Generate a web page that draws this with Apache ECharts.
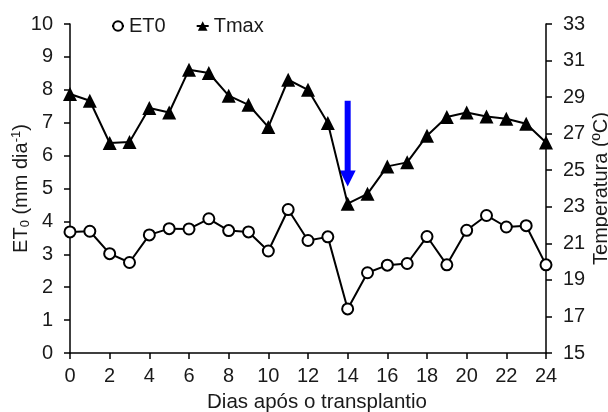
<!DOCTYPE html>
<html><head><meta charset="utf-8">
<script src="https://cdn.jsdelivr.net/npm/echarts@6/dist/echarts.min.js"></script>
<style>html,body{margin:0;padding:0;background:#fff}#c{width:608px;height:412px}</style>
</head><body><div id="c"></div>
<script>
const days = [0,1,2,3,4,5,6,7,8,9,10,11,12,13,14,15,16,17,18,19,20,21,22,23,24];
const et0 = [3.68,3.70,3.02,2.75,3.59,3.78,3.77,4.08,3.72,3.68,3.10,4.36,3.42,3.53,1.34,2.44,2.67,2.72,3.54,2.68,3.73,4.18,3.83,3.87,2.68];
const tmax = [29.17,28.80,26.49,26.54,28.40,28.16,30.50,30.32,29.08,28.58,27.36,29.95,29.40,27.58,23.17,23.71,25.21,25.43,26.89,27.91,28.16,27.94,27.82,27.54,26.52];
const arrow = [[14, 7.67, 5.06]];
const seriesNames = ['ET0', 'Tmax'];
const xName = 'Dias após o transplantio';

const FONT = 'Liberation Sans';
const TXT = '#1a1a1a';
const chart = echarts.init(document.getElementById('c'), null, {renderer:'canvas'});
const axisCommon = {
  nameMoveOverlap:false,
  axisLine:{show:true, lineStyle:{color:'#000', width:1.5}},
  axisTick:{show:true, inside:false, length:6, lineStyle:{color:'#000', width:1.5}},
  splitLine:{show:false},
  axisLabel:{color:TXT, fontFamily:FONT, fontSize:20}
};
chart.setOption({
  animation:false,
  backgroundColor:'#fff',
  grid:{left:70, right:62, top:24, bottom:59, containLabel:false, outerBoundsMode:'none'},
  legend:{
    data:seriesNames, left:106, top:11, itemWidth:12, itemHeight:12, itemGap:30,
    textStyle:{color:TXT, fontFamily:FONT, fontSize:20}
  },
  xAxis:{
    type:'value', min:0, max:24, interval:2,
    name:xName, nameLocation:'middle', nameGap:39,
    nameTextStyle:{color:TXT, fontFamily:FONT, fontSize:20.5, padding:[0,0,0,18]},
    ...axisCommon,
    axisLabel:{...axisCommon.axisLabel, margin:13}
  },
  yAxis:[{
    type:'value', min:0, max:10, interval:1, position:'left',
    name:'ET{sub|0} (mm dia{sup|-1})', nameLocation:'middle', nameGap:38, nameRotate:90,
    nameTextStyle:{color:TXT, fontFamily:FONT, fontSize:20, lineHeight:22,
      rich:{sub:{fontSize:13, fontFamily:FONT, color:TXT, verticalAlign:'bottom', lineHeight:22},
            sup:{fontSize:13, fontFamily:FONT, color:TXT, verticalAlign:'top', lineHeight:22}}},
    ...axisCommon,
    axisLabel:{...axisCommon.axisLabel, margin:17}
  },{
    type:'value', min:15, max:33, interval:2, position:'right',
    name:'Temperatura (ºC)', nameLocation:'middle', nameGap:45, nameRotate:90,
    nameTextStyle:{color:TXT, fontFamily:FONT, fontSize:20},
    ...axisCommon,
    axisLabel:{...axisCommon.axisLabel, margin:17}
  }],
  series:[{
    name:seriesNames[0], type:'line', yAxisIndex:0,
    data:days.map((d,i)=>[d, et0[i]]),
    symbol:'emptyCircle', symbolSize:11,
    lineStyle:{color:'#000', width:2},
    itemStyle:{color:'#000', borderWidth:2, borderColor:'#000'}
  },{
    name:seriesNames[1], type:'line', yAxisIndex:1,
    data:days.map((d,i)=>[d, tmax[i]]),
    symbol:'triangle', symbolSize:14,
    lineStyle:{color:'#000', width:2},
    itemStyle:{color:'#000'}
  },{
    type:'custom', yAxisIndex:0, silent:true,
    data:arrow,
    renderItem:function(params, api){
      const top = api.coord([api.value(0), api.value(1)]);
      const tip = api.coord([api.value(0), api.value(2)]);
      const x = top[0], sw = 3, hw = 8, hl = 16;
      return {type:'polygon', shape:{points:[
        [x-sw, top[1]], [x+sw, top[1]], [x+sw, tip[1]-hl], [x+hw, tip[1]-hl],
        [x, tip[1]], [x-hw, tip[1]-hl], [x-sw, tip[1]-hl]]},
        style:{fill:'#0000ff'}};
    }
  }]
});
</script></body></html>
